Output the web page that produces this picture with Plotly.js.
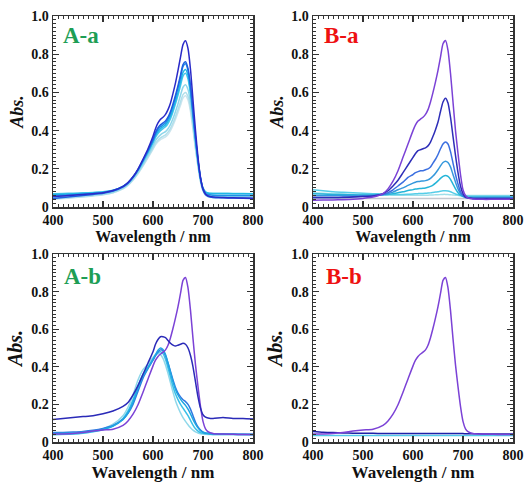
<!DOCTYPE html>
<html>
<head>
<meta charset="utf-8">
<script src="https://cdn.plot.ly/plotly-3.0.1.min.js"></script>
<style>html,body{margin:0;padding:0;background:#fff;}#chart{width:526px;height:482px;}</style>
</head>
<body>
<div id="chart"></div>
<script>
// Wavelength grid (nm)
const wl = [400,420,440,460,480,500,520,540,550,560,570,580,590,600,605,610,615,620,625,630,635,640,645,650,655,660,665,670,675,680,685,690,695,700,705,710,720,740,760,780,800];

// Tick labels
const xTickVals = [400,500,600,700,800];
const xTickText = ["400","500","600","700","800"];
const yTickVals = [0,0.2,0.4,0.6,0.8,1.0];
const yTickText = ["0","0.2","0.4","0.6","0.8","1.0"];

// Panel labels
const panelLabels = ["A-a","B-a","A-b","B-b"];

// ---- Panel A-a ----
const aa1 = [0.055,0.058,0.062,0.066,0.07,0.075,0.086,0.108,0.128,0.158,0.198,0.25,0.305,0.37,0.41,0.44,0.46,0.47,0.485,0.51,0.545,0.595,0.65,0.715,0.785,0.85,0.87,0.83,0.72,0.56,0.4,0.26,0.155,0.095,0.068,0.058,0.053,0.05,0.048,0.047,0.046];
const aa2 = [0.045,0.05,0.055,0.06,0.066,0.072,0.083,0.105,0.125,0.155,0.195,0.245,0.298,0.355,0.39,0.415,0.43,0.44,0.45,0.47,0.5,0.54,0.585,0.635,0.69,0.745,0.76,0.725,0.635,0.5,0.365,0.245,0.15,0.09,0.065,0.056,0.05,0.048,0.047,0.046,0.045];
const aa3 = [0.06,0.062,0.064,0.067,0.07,0.075,0.085,0.107,0.127,0.157,0.196,0.244,0.295,0.35,0.383,0.405,0.42,0.43,0.44,0.46,0.49,0.53,0.575,0.625,0.68,0.735,0.75,0.715,0.625,0.495,0.36,0.245,0.15,0.095,0.072,0.065,0.062,0.06,0.06,0.06,0.06];
const aa4 = [0.065,0.067,0.069,0.071,0.074,0.078,0.087,0.108,0.127,0.156,0.194,0.241,0.29,0.343,0.373,0.395,0.41,0.42,0.43,0.448,0.475,0.512,0.555,0.6,0.655,0.705,0.72,0.69,0.605,0.48,0.35,0.24,0.15,0.098,0.078,0.072,0.07,0.07,0.07,0.07,0.07];
const aa5 = [0.07,0.071,0.072,0.074,0.076,0.08,0.088,0.108,0.126,0.154,0.19,0.236,0.283,0.335,0.364,0.385,0.4,0.41,0.42,0.437,0.462,0.498,0.54,0.585,0.635,0.685,0.7,0.67,0.59,0.47,0.345,0.238,0.15,0.1,0.08,0.074,0.072,0.072,0.071,0.071,0.07];
const aa6 = [0.05,0.053,0.056,0.06,0.064,0.069,0.079,0.1,0.119,0.147,0.183,0.226,0.272,0.32,0.347,0.365,0.378,0.387,0.395,0.41,0.432,0.463,0.5,0.54,0.585,0.627,0.64,0.615,0.545,0.44,0.325,0.225,0.14,0.09,0.068,0.06,0.056,0.055,0.055,0.055,0.055];
const aa7 = [0.04,0.044,0.048,0.053,0.058,0.064,0.075,0.096,0.115,0.142,0.177,0.218,0.262,0.308,0.333,0.35,0.362,0.37,0.378,0.392,0.412,0.44,0.474,0.51,0.55,0.588,0.6,0.578,0.515,0.418,0.31,0.215,0.135,0.085,0.062,0.054,0.05,0.048,0.047,0.046,0.045];
const aa8 = [0.045,0.048,0.052,0.056,0.06,0.065,0.075,0.095,0.113,0.14,0.174,0.214,0.257,0.302,0.326,0.342,0.353,0.36,0.367,0.38,0.4,0.427,0.46,0.495,0.533,0.57,0.582,0.56,0.5,0.405,0.3,0.21,0.132,0.085,0.063,0.056,0.052,0.05,0.05,0.05,0.05];
const aaColors = ["#2a2ac8","#1f5fe0","#1f8fe6","#1fb8e6","#4ac6ea","#8ed6ea","#b0dfeb","#cde5ee"];

// ---- Panel B-a ----
const ba1 = [0.035,0.036,0.037,0.038,0.04,0.045,0.052,0.07,0.095,0.135,0.19,0.26,0.33,0.4,0.43,0.45,0.46,0.47,0.485,0.51,0.55,0.6,0.655,0.715,0.785,0.855,0.872,0.82,0.7,0.55,0.4,0.28,0.17,0.09,0.06,0.048,0.042,0.04,0.04,0.04,0.04];
const ba2 = [0.05,0.05,0.05,0.05,0.052,0.055,0.058,0.07,0.085,0.11,0.14,0.18,0.22,0.26,0.28,0.295,0.3,0.305,0.31,0.32,0.34,0.37,0.405,0.445,0.5,0.55,0.57,0.545,0.47,0.37,0.27,0.18,0.11,0.07,0.052,0.048,0.045,0.045,0.045,0.045,0.045];
const ba3 = [0.05,0.05,0.05,0.052,0.054,0.056,0.058,0.065,0.075,0.09,0.11,0.13,0.155,0.17,0.18,0.185,0.19,0.19,0.195,0.2,0.21,0.23,0.25,0.275,0.305,0.33,0.34,0.33,0.29,0.23,0.17,0.12,0.08,0.06,0.05,0.047,0.045,0.045,0.045,0.045,0.045];
const ba4 = [0.06,0.06,0.06,0.06,0.06,0.06,0.062,0.065,0.07,0.078,0.09,0.1,0.113,0.125,0.13,0.133,0.135,0.136,0.138,0.142,0.15,0.162,0.177,0.195,0.215,0.233,0.24,0.233,0.21,0.17,0.13,0.095,0.07,0.058,0.052,0.05,0.05,0.05,0.05,0.05,0.05];
const ba5 = [0.07,0.068,0.066,0.065,0.064,0.063,0.063,0.064,0.066,0.07,0.075,0.08,0.086,0.091,0.094,0.096,0.097,0.098,0.1,0.103,0.108,0.115,0.125,0.137,0.15,0.16,0.165,0.16,0.145,0.12,0.095,0.075,0.062,0.055,0.052,0.05,0.05,0.05,0.05,0.05,0.05];
const ba6 = [0.09,0.085,0.08,0.077,0.074,0.072,0.07,0.068,0.067,0.066,0.066,0.066,0.067,0.068,0.069,0.07,0.071,0.071,0.072,0.073,0.074,0.076,0.078,0.08,0.083,0.085,0.085,0.084,0.08,0.074,0.068,0.064,0.06,0.058,0.057,0.057,0.056,0.056,0.056,0.056,0.056];
const ba7 = [0.075,0.072,0.07,0.068,0.066,0.065,0.064,0.063,0.062,0.062,0.062,0.062,0.062,0.062,0.062,0.062,0.062,0.062,0.062,0.062,0.063,0.063,0.064,0.064,0.065,0.066,0.066,0.065,0.064,0.063,0.062,0.061,0.06,0.06,0.06,0.06,0.06,0.06,0.06,0.06,0.06];
const ba8 = [0.046,0.046,0.045,0.045,0.045,0.045,0.045,0.045,0.045,0.045,0.045,0.045,0.045,0.045,0.045,0.045,0.045,0.045,0.045,0.045,0.045,0.045,0.045,0.045,0.045,0.045,0.045,0.045,0.045,0.045,0.045,0.045,0.045,0.045,0.045,0.045,0.045,0.045,0.045,0.045,0.045];
const baColors = ["#7b42d6","#2e2eb8","#3b6fe0","#3598dc","#25b5d8","#55cde8","#9fdfea","#c4c8d0"];

// ---- Panel A-b ----
const monomer = [0.042,0.043,0.045,0.05,0.058,0.064,0.068,0.088,0.112,0.148,0.198,0.265,0.335,0.405,0.435,0.455,0.468,0.478,0.49,0.515,0.555,0.605,0.66,0.72,0.79,0.86,0.875,0.82,0.7,0.55,0.41,0.295,0.19,0.11,0.07,0.055,0.045,0.042,0.041,0.04,0.04];
const ab2 = [0.12,0.125,0.13,0.135,0.14,0.15,0.165,0.19,0.21,0.25,0.3,0.36,0.42,0.48,0.52,0.545,0.56,0.56,0.555,0.54,0.525,0.515,0.51,0.515,0.52,0.525,0.52,0.5,0.46,0.4,0.32,0.24,0.18,0.145,0.132,0.128,0.125,0.13,0.125,0.125,0.122];
const ab3 = [0.045,0.046,0.048,0.052,0.058,0.068,0.085,0.12,0.155,0.21,0.285,0.35,0.395,0.44,0.465,0.488,0.5,0.492,0.465,0.42,0.37,0.32,0.28,0.25,0.228,0.21,0.195,0.175,0.15,0.12,0.095,0.075,0.06,0.052,0.048,0.046,0.044,0.042,0.041,0.04,0.04];
const ab4 = [0.05,0.051,0.053,0.056,0.062,0.072,0.088,0.12,0.152,0.2,0.27,0.34,0.39,0.435,0.46,0.48,0.49,0.485,0.46,0.42,0.375,0.33,0.29,0.26,0.24,0.225,0.215,0.2,0.175,0.14,0.105,0.08,0.063,0.053,0.048,0.046,0.044,0.043,0.042,0.041,0.04];
const ab5 = [0.04,0.041,0.043,0.047,0.054,0.065,0.085,0.125,0.165,0.225,0.3,0.36,0.4,0.44,0.46,0.475,0.48,0.47,0.44,0.395,0.345,0.295,0.255,0.225,0.2,0.18,0.16,0.14,0.115,0.09,0.07,0.058,0.05,0.046,0.044,0.042,0.04,0.04,0.04,0.04,0.04];
const ab6 = [0.038,0.04,0.043,0.048,0.056,0.07,0.095,0.14,0.185,0.25,0.33,0.385,0.415,0.45,0.465,0.47,0.465,0.445,0.41,0.365,0.315,0.265,0.22,0.185,0.155,0.13,0.11,0.092,0.076,0.063,0.054,0.048,0.044,0.042,0.041,0.04,0.04,0.04,0.04,0.04,0.04];
const abColors = ["#7b42d6","#2a2ab8","#1fa6e2","#2f78e0","#38c0e8","#90d8ea"];

// ---- Panel B-b ----
const bb2 = [0.056,0.052,0.05,0.048,0.047,0.046,0.046,0.045,0.045,0.045,0.045,0.045,0.045,0.045,0.045,0.045,0.045,0.045,0.045,0.045,0.045,0.045,0.045,0.045,0.045,0.045,0.045,0.045,0.045,0.045,0.045,0.045,0.045,0.045,0.044,0.044,0.044,0.043,0.043,0.042,0.042];
const bb3 = [0.035,0.035,0.035,0.035,0.035,0.035,0.035,0.035,0.035,0.035,0.035,0.035,0.035,0.035,0.035,0.035,0.035,0.035,0.035,0.035,0.035,0.035,0.035,0.035,0.035,0.035,0.035,0.035,0.035,0.035,0.035,0.035,0.035,0.035,0.035,0.035,0.035,0.035,0.035,0.035,0.035];
const bbColors = ["#7b42d6","#2020a8","#50c8e8"];

const panels = [
  {series:[aa8,aa7,aa6,aa5,aa4,aa3,aa2,aa1], colors:aaColors.slice().reverse(), ax:""},
  {series:[ba8,ba7,ba6,ba5,ba4,ba3,ba2,ba1], colors:baColors.slice().reverse(), ax:"2"},
  {series:[ab6,ab5,ab4,ab3,monomer,ab2], colors:[abColors[5],abColors[4],abColors[3],abColors[2],abColors[0],abColors[1]], ax:"3"},
  {series:[bb3,bb2,monomer], colors:[bbColors[2],bbColors[1],bbColors[0]], ax:"4"}
];

const traces = [];
panels.forEach(p => {
  p.series.forEach((s,i) => {
    traces.push({x:wl, y:s, type:'scatter', mode:'lines', line:{color:p.colors[i], width:1.5, shape:'spline', smoothing:0.6},
      xaxis:'x'+p.ax, yaxis:'y'+p.ax, showlegend:false, hoverinfo:'skip'});
  });
});

const FONT = '"Liberation Serif", "DejaVu Serif", serif';
const W = 526, H = 482;
const xd = [[53/W,253/W],[313/W,513/W]];
const ydTop = [1-207/H, 1-16/H];
const ydBot = [1-442/H, 1-254/H];

function xax(domain, anchor, tsize, sOff){
  return {domain:domain, anchor:anchor, range:[400,800], tickmode:'array', tickvals:xTickVals, ticktext:xTickText,
    ticks:'inside', ticklen:6, tickwidth:1.2, tickcolor:'#333', mirror:'ticks', showline:true, linecolor:'#333', linewidth:1.5,
    showgrid:false, zeroline:false,
    minor:{dtick:10, tick0:400, ticks:'inside', ticklen:3, tickwidth:1, tickcolor:'#333', showgrid:false},
    tickfont:{family:FONT, size:14, color:'#111', weight:'bold'},
    title:{text:'Wavelength / nm', font:{family:FONT, size:tsize, color:'#111', weight:'bold'}, standoff:sOff}};
}
function yax(domain, anchor, tsize){
  return {domain:domain, anchor:anchor, range:[0,1], tickmode:'array', tickvals:yTickVals, ticktext:yTickText,
    ticks:'inside', ticklen:6, tickwidth:1.2, tickcolor:'#333', mirror:'ticks', showline:true, linecolor:'#333', linewidth:1.5,
    showgrid:false, zeroline:false,
    minor:{dtick:0.02, tick0:0, ticks:'inside', ticklen:3, tickwidth:1, tickcolor:'#333', showgrid:false},
    tickfont:{family:FONT, size:14, color:'#111', weight:'bold'},
    title:{text:'Abs.', font:{family:FONT, size:tsize, color:'#111', weight:'bold', style:'italic'}, standoff:3}};
}

const labelColors = ["#1e9e55","#ee1111","#1e9e55","#ee1111"];
const labelPos = [[61,36],[322,36],[62,276],[324,276]];
const annotations = panelLabels.map((t,i)=>({text:t, xref:'paper', yref:'paper', x:labelPos[i][0]/W, y:1-labelPos[i][1]/H,
  xanchor:'left', yanchor:'middle', showarrow:false, font:{family:FONT, size:23, color:labelColors[i], weight:'bold'}}));

const layout = {
  width:W, height:H, margin:{l:0,r:0,t:0,b:0}, paper_bgcolor:'#fff', plot_bgcolor:'#fff', showlegend:false,
  font:{family:FONT},
  xaxis: xax(xd[0],'y',16,3), yaxis: yax(ydTop,'x',18),
  xaxis2: xax(xd[1],'y2',16,3), yaxis2: yax(ydTop,'x2',18),
  xaxis3: xax(xd[0],'y3',17,3), yaxis3: yax(ydBot,'x3',20),
  xaxis4: xax(xd[1],'y4',17,3), yaxis4: yax(ydBot,'x4',20),
  annotations: annotations
};

Plotly.newPlot('chart', traces, layout, {staticPlot:true, displayModeBar:false});
</script>
</body>
</html>
